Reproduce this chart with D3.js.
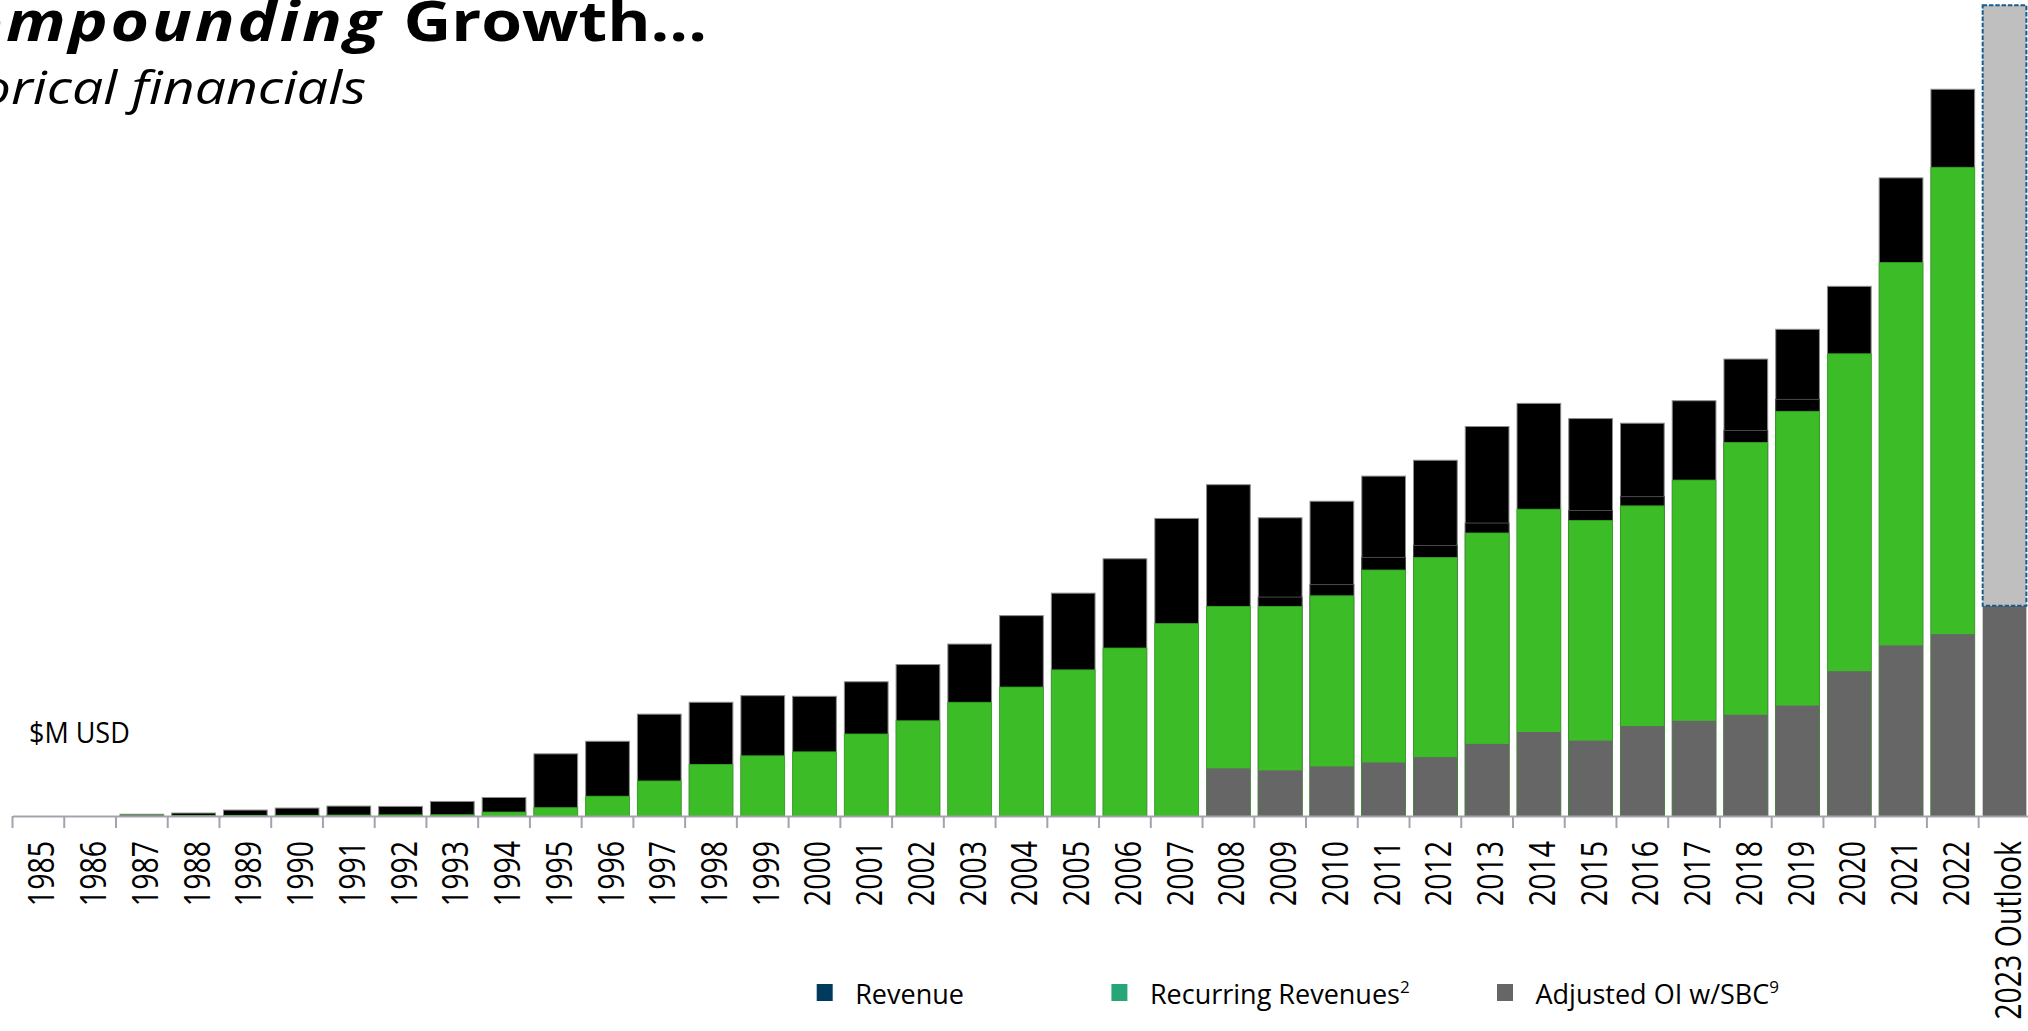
<!DOCTYPE html>
<html>
<head>
<meta charset="utf-8">
<title>Compounding Growth – Historical financials</title>
<script src="https://cdn.jsdelivr.net/npm/d3@7"></script>
<style>
  html, body { margin: 0; padding: 0; background: #ffffff; overflow: hidden; }
  #chart { width: 2028px; height: 1031px; }
  text { font-family: "Open Sans", "Noto Sans", "DejaVu Sans", sans-serif; }
</style>
</head>
<body>
<div id="chart"></div>
<script>
// Fiscal years shown on the x axis ($M USD)
const categories = [
  "1985", "1986", "1987", "1988", "1989", "1990", "1991", "1992", "1993", "1994",
  "1995", "1996", "1997", "1998", "1999", "2000", "2001", "2002", "2003", "2004",
  "2005", "2006", "2007", "2008", "2009", "2010", "2011", "2012", "2013", "2014",
  "2015", "2016", "2017", "2018", "2019", "2020", "2021", "2022", "2023 Outlook"
];
const outlookCategory = "2023 Outlook";

// Total revenue
const revenue = [
  0, 0, 2.6, 4.5, 9, 12, 15, 14.5, 22, 28,
  94, 113, 154, 172, 182, 181, 203, 229, 260, 303,
  337, 389, 450, 501, 451, 476, 514, 538, 589, 624,
  601, 594, 628, 691, 736, 801, 965, 1099, 1226
];

// Recurring revenues
const recurringRevenues = [
  0, 0, 0.5, 0.8, 1, 1.2, 1.5, 1.8, 2, 6,
  12.6, 30, 53, 78, 91, 97, 124, 144, 172, 195,
  221, 254, 291, 317, 317, 333, 372, 391, 428, 464,
  447, 469, 508, 565, 612, 699, 837, 981, null
];

// Earlier recurring-revenue level, drawn as an outlined layer behind the green bars
const recurringPrior = [
  null, null, null, null, null, null, null, null, null, null,
  null, null, null, null, null, null, null, null, null, null,
  null, null, null, null, 331, 350, 391, 409, 443, null,
  462, 483, null, 583, 630, null, null, null, null
];

// Adjusted operating income including stock-based compensation
const adjustedOI = [
  null, null, null, null, null, null, null, null, null, null,
  null, null, null, null, null, null, null, null, null, null,
  null, null, null, 72, 69, 75, 81, 89, 109, 127,
  114, 136, 144, 153, 167, 219, 258, 275, 318
];

// Legend entries
const legendLabels = ["Revenue", "Recurring Revenues", "Adjusted OI w/SBC"];
const legendNotes = ["", "2", "9"];
const legendColors = ["#003a5d", "#26a677", "#666666"];

const W = 2028, H = 1031;
const svg = d3.select("#chart").append("svg")
  .attr("width", W).attr("height", H)
  .attr("viewBox", `0 0 ${W} ${H}`);

svg.append("rect").attr("width", W).attr("height", H).attr("fill", "#ffffff");

const x = d3.scaleBand()
  .domain(categories)
  .range([12.5, 2030.4])
  .paddingInner(0.155)
  .paddingOuter(0.0775);

const y = d3.scaleLinear().domain([0, 1234]).range([816, 0]);

const rows = categories.map((c, i) => ({
  cat: c,
  rev: revenue[i],
  rec: recurringRevenues[i],
  prior: recurringPrior[i],
  oi: adjustedOI[i]
}));

const bw = x.bandwidth();

// Revenue (historical years)
svg.append("g")
  .selectAll("rect")
  .data(rows.filter(d => d.cat !== outlookCategory && d.rev > 0))
  .join("rect")
  .attr("x", d => x(d.cat))
  .attr("width", bw)
  .attr("y", d => y(d.rev))
  .attr("height", d => y(0) - y(d.rev))
  .attr("fill", "#000000")
  .attr("stroke", "#8c8c8c")
  .attr("stroke-width", 1);

// Outlined prior recurring level
svg.append("g")
  .selectAll("rect")
  .data(rows.filter(d => d.prior != null))
  .join("rect")
  .attr("x", d => x(d.cat))
  .attr("width", bw)
  .attr("y", d => y(d.prior))
  .attr("height", d => y(0) - y(d.prior))
  .attr("fill", "#000000")
  .attr("stroke", "#4a4a4a")
  .attr("stroke-width", 1);

// Recurring revenues
svg.append("g")
  .selectAll("rect")
  .data(rows.filter(d => d.rec != null && d.rec > 0))
  .join("rect")
  .attr("x", d => x(d.cat))
  .attr("width", bw)
  .attr("y", d => y(d.rec))
  .attr("height", d => y(0) - y(d.rec))
  .attr("fill", "#3cbc27")
  .attr("stroke", "#35a523")
  .attr("stroke-width", 0.8);

// Adjusted OI w/SBC
svg.append("g")
  .selectAll("rect")
  .data(rows.filter(d => d.oi != null))
  .join("rect")
  .attr("x", d => x(d.cat))
  .attr("width", bw)
  .attr("y", d => y(d.oi))
  .attr("height", d => y(0) - y(d.oi))
  .attr("fill", "#666666");

// Outlook revenue above the outlook operating income
svg.append("g")
  .selectAll("rect")
  .data(rows.filter(d => d.cat === outlookCategory))
  .join("rect")
  .attr("x", d => x(d.cat))
  .attr("width", bw)
  .attr("y", d => y(d.rev))
  .attr("height", d => y(d.oi) - y(d.rev))
  .attr("fill", "#bfbfbf")
  .attr("stroke", "#1a5b8e")
  .attr("stroke-width", 2)
  .attr("stroke-dasharray", "4.5,1.8");

// X axis: ticks sit on the boundaries between bars
const axis = d3.axisBottom(x).tickSize(12).tickSizeOuter(0);
const gx = svg.append("g")
  .attr("transform", `translate(0,${y(0)})`)
  .call(axis)
  .attr("font-family", null)
  .attr("font-size", 28.5);

gx.select(".domain").attr("stroke", "#a3a3ad").attr("stroke-width", 2);
gx.selectAll(".tick line")
  .attr("x1", -x.step() / 2)
  .attr("x2", -x.step() / 2)
  .attr("stroke", "#a3a3ad")
  .attr("stroke-width", 2);
gx.selectAll(".tick text")
  .attr("x", 0)
  .attr("y", 0)
  .attr("dy", null)
  .attr("text-anchor", "end")
  .attr("fill", "#000000")
  .attr("transform", "translate(16,25) rotate(-90) scale(1,1.28)");

// Unit label
svg.append("text")
  .attr("transform", "translate(29,743) scale(0.9,1)")
  .attr("font-size", 30)
  .attr("fill", "#000000")
  .text("$M USD");

// Title and subtitle
const title = svg.append("text")
  .attr("transform", "translate(707,41) scale(1.2,1)")
  .attr("text-anchor", "end")
  .attr("font-size", 55)
  .attr("font-weight", 700)
  .attr("fill", "#000000");
title.append("tspan")
  .attr("font-style", "italic")
  .attr("letter-spacing", 2.4)
  .text("Compounding ");
title.append("tspan").text("Growth...");

svg.append("text")
  .attr("transform", "translate(366,104) scale(1.23,1)")
  .attr("text-anchor", "end")
  .attr("font-size", 45)
  .attr("font-style", "italic")
  .attr("fill", "#000000")
  .text("Historical financials");

// Legend
const legendX = [816.7, 1111.4, 1497];
const legend = svg.append("g")
  .selectAll("g")
  .data(legendLabels)
  .join("g")
  .attr("transform", (d, i) => `translate(${legendX[i]},984)`);

legend.append("rect")
  .attr("width", 16)
  .attr("height", 17)
  .attr("fill", (d, i) => legendColors[i]);

const lt = legend.append("text")
  .attr("x", 38.5)
  .attr("y", 20)
  .attr("font-size", 27)
  .attr("fill", "#000000");
lt.append("tspan").text(d => d);
lt.append("tspan")
  .attr("font-size", 17)
  .attr("dy", -11)
  .text((d, i) => legendNotes[i]);
</script>
</body>
</html>
